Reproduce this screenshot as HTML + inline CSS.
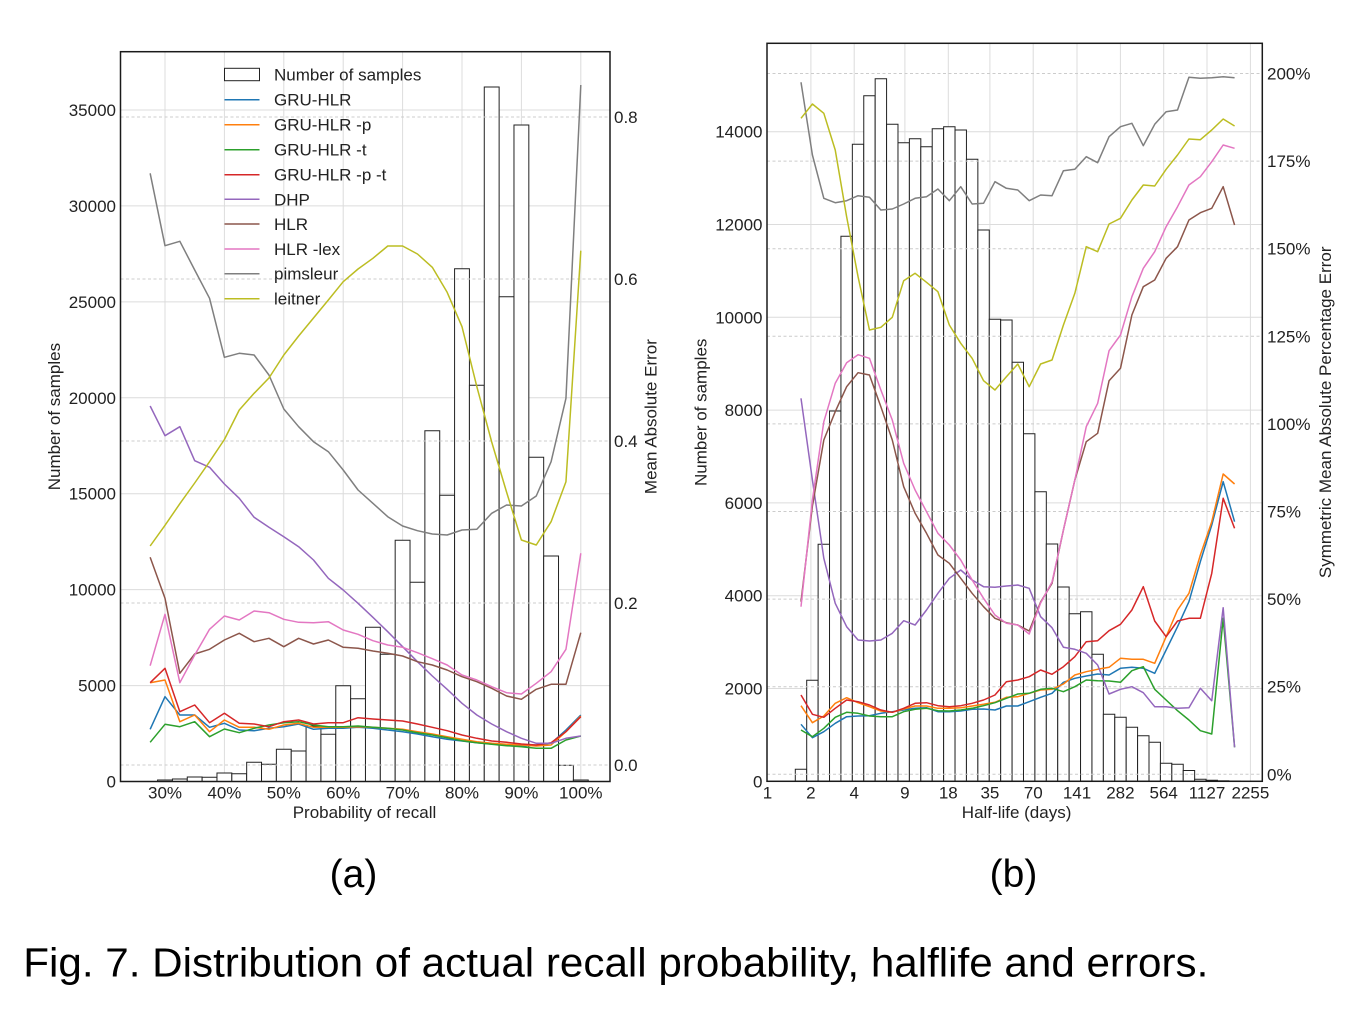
<!DOCTYPE html>
<html>
<head>
<meta charset="utf-8">
<style>
html,body{margin:0;padding:0;background:#fff;}
svg{display:block;}
text{font-family:"Liberation Sans",Arial,sans-serif;fill:#222;}
.t{font-size:17px;}
.g{stroke:#dcdcdc;stroke-width:1;}
.d{stroke:#cccccc;stroke-width:1;stroke-dasharray:3 2.5;}
.b rect{fill:#fff;stroke:#222;stroke-width:1;vector-effect:non-scaling-stroke;}
.ln polyline{fill:none;stroke-width:1.5;stroke-linejoin:round;vector-effect:non-scaling-stroke;}
</style>
</head>
<body>
<svg width="1366" height="1016" viewBox="0 0 1366 1016" xmlns="http://www.w3.org/2000/svg">
<rect x="0" y="0" width="1366" height="1016" fill="#fff"/>

<!-- ================= LEFT CHART ================= -->
<g class="g">
<line x1="120.5" y1="685.6" x2="610" y2="685.6"/>
<line x1="120.5" y1="589.6" x2="610" y2="589.6"/>
<line x1="120.5" y1="493.7" x2="610" y2="493.7"/>
<line x1="120.5" y1="397.8" x2="610" y2="397.8"/>
<line x1="120.5" y1="301.9" x2="610" y2="301.9"/>
<line x1="120.5" y1="205.9" x2="610" y2="205.9"/>
<line x1="120.5" y1="110" x2="610" y2="110"/>
<line x1="165" y1="51.7" x2="165" y2="781.5"/>
<line x1="224.4" y1="51.7" x2="224.4" y2="781.5"/>
<line x1="283.8" y1="51.7" x2="283.8" y2="781.5"/>
<line x1="343.2" y1="51.7" x2="343.2" y2="781.5"/>
<line x1="402.6" y1="51.7" x2="402.6" y2="781.5"/>
<line x1="462" y1="51.7" x2="462" y2="781.5"/>
<line x1="521.4" y1="51.7" x2="521.4" y2="781.5"/>
<line x1="580.8" y1="51.7" x2="580.8" y2="781.5"/>
</g>

<g class="b" transform="matrix(14.85,0,0,1,150.15,0)">
<rect x="0.5" y="780" width="1" height="1.5"/>
<rect x="1.5" y="779" width="1" height="2.5"/>
<rect x="2.5" y="777" width="1" height="4.5"/>
<rect x="3.5" y="777.3" width="1" height="4.2"/>
<rect x="4.5" y="773" width="1" height="8.5"/>
<rect x="5.5" y="773.7" width="1" height="7.8"/>
<rect x="6.5" y="762.3" width="1" height="19.2"/>
<rect x="7.5" y="764.3" width="1" height="17.2"/>
<rect x="8.5" y="749.3" width="1" height="32.2"/>
<rect x="9.5" y="751" width="1" height="30.5"/>
<rect x="10.5" y="726" width="1" height="55.5"/>
<rect x="11.5" y="734.3" width="1" height="47.2"/>
<rect x="12.5" y="685.7" width="1" height="95.8"/>
<rect x="13.5" y="698.7" width="1" height="82.8"/>
<rect x="14.5" y="627.3" width="1" height="154.2"/>
<rect x="15.5" y="654.3" width="1" height="127.2"/>
<rect x="16.5" y="540.3" width="1" height="241.2"/>
<rect x="17.5" y="582.3" width="1" height="199.2"/>
<rect x="18.5" y="430.7" width="1" height="350.8"/>
<rect x="19.5" y="495.3" width="1" height="286.2"/>
<rect x="20.5" y="268.7" width="1" height="512.8"/>
<rect x="21.5" y="385.3" width="1" height="396.2"/>
<rect x="22.5" y="87" width="1" height="694.5"/>
<rect x="23.5" y="296.7" width="1" height="484.8"/>
<rect x="24.5" y="125" width="1" height="656.5"/>
<rect x="25.5" y="457.3" width="1" height="324.2"/>
<rect x="26.5" y="556" width="1" height="225.5"/>
<rect x="27.5" y="765.3" width="1" height="16.2"/>
<rect x="28.5" y="780" width="1" height="1.5"/>
</g>

<g class="d">
<line x1="120.5" y1="765" x2="610" y2="765"/>
<line x1="120.5" y1="603" x2="610" y2="603"/>
<line x1="120.5" y1="441" x2="610" y2="441"/>
<line x1="120.5" y1="279" x2="610" y2="279"/>
<line x1="120.5" y1="117" x2="610" y2="117"/>
</g>

<g class="ln" transform="matrix(14.85,0,0,1,150.15,0)">
<polyline vector-effect="non-scaling-stroke" stroke="#1f77b4" points="0,729.3 1,696.7 2,715 3,715 4,727.3 5,723.3 6,730 7,730.7 8,728.3 9,726.7 10,724 11,729.3 12,728.3 13,728.3 14,727.3 15,728.3 16,730 17,731.7 18,734 19,736.7 20,739.3 21,741 22,742.7 23,744 24,745 25,746 26,745 27,743.3 28,730 29,715"/>
<polyline vector-effect="non-scaling-stroke" stroke="#ff7f0e" points="0,682.7 1,680 2,721.7 3,715 4,731.7 5,720 6,727.3 7,727.3 8,729.3 9,725 10,723.3 11,727.3 12,727.3 13,727.3 14,726.7 15,727.3 16,728.3 17,729.3 18,731.7 19,734 20,736.7 21,739.3 22,741.7 23,743.3 24,744.3 25,745 26,746 27,745 28,731.7 29,716"/>
<polyline vector-effect="non-scaling-stroke" stroke="#2ca02c" points="0,742.3 1,724.3 2,726.7 3,721.7 4,736.7 5,729 6,732.7 7,728.3 8,725 9,722.7 10,721.7 11,725 12,726.7 13,726.7 14,726 15,727.3 16,728.3 17,730 18,732.7 19,735 20,737.7 21,740.7 22,742.7 23,744.3 24,745.7 25,746.7 26,748.3 27,748.3 28,740 29,736"/>
<polyline vector-effect="non-scaling-stroke" stroke="#d62728" points="0,682.7 1,668.3 2,711.7 3,705 4,722.7 5,713.3 6,723.3 7,724 8,726.7 9,721.7 10,720 11,724 12,722.7 13,722.7 14,717.7 15,719 16,720 17,721 18,724 19,727.3 20,730.7 21,735 22,738.3 23,741 24,742.3 25,744 26,745 27,742.7 28,731.7 29,716.7"/>
<polyline vector-effect="non-scaling-stroke" stroke="#9467bd" points="0,406 1,435.7 2,426.7 3,460.7 4,467.3 5,484 6,498.3 7,517.3 8,527.3 9,536.7 10,546.7 11,560 12,578.3 13,590 14,603.3 15,617.3 16,631.7 17,646.7 18,661.7 19,676 20,689.3 21,703.3 22,715 23,724 24,731.7 25,738.3 26,743.3 27,743.3 28,738.3 29,736"/>
<polyline vector-effect="non-scaling-stroke" stroke="#8c564b" points="0,557.3 1,598.3 2,673.3 3,654 4,649.3 5,640 6,633.3 7,641.7 8,638.3 9,646.7 10,638.3 11,644 12,640 13,647.3 14,648.3 15,651 16,653.3 17,656 18,661.7 19,665 20,670 21,676.7 22,681.7 23,688.3 24,696 25,699.3 26,689.3 27,684.3 28,684.3 29,632.7"/>
<polyline vector-effect="non-scaling-stroke" stroke="#e377c2" points="0,665.7 1,614.3 2,682.7 3,655 4,629.3 5,616 6,620 7,611 8,612.7 9,619.3 10,622.3 11,622.7 12,621.7 13,630 14,634.3 15,640.7 16,645 17,647.3 18,652.7 19,658.7 20,665 21,675 22,680 23,686.7 24,692.7 25,694 26,683.3 27,671.7 28,649.3 29,553.3"/>
<polyline vector-effect="non-scaling-stroke" stroke="#7f7f7f" points="0,173.3 1,245.7 2,241.3 3,270 4,298.3 5,357.3 6,353.3 7,355 8,375 9,409 10,426.7 11,441.7 12,451.7 13,470 14,490 15,503.3 16,516.7 17,526 18,530.7 19,534 20,535 21,530 22,529.3 23,513.3 24,505 25,506 26,496 27,461.7 28,398.3 29,85"/>
<polyline vector-effect="non-scaling-stroke" stroke="#bcbd22" points="0,546 1,525.3 2,503.7 3,483 4,461.7 5,439.5 6,410 7,393.3 8,378 9,355 10,336 11,318 12,300 13,281.7 14,269 15,258.3 16,246 17,246 18,254 19,267.3 20,292.3 21,326.7 22,386.7 23,442 24,492 25,540 26,545 27,521.7 28,481.7 29,250.7"/>
</g>

<rect x="120.5" y="51.7" width="489.5" height="729.8" fill="none" stroke="#1a1a1a" stroke-width="1.5"/>

<!-- legend -->
<rect x="224.5" y="68.3" width="35" height="12.4" fill="#fff" stroke="#222" stroke-width="1"/>
<g stroke-width="1.5">
<line x1="224.5" y1="99.7" x2="259.5" y2="99.7" stroke="#1f77b4"/>
<line x1="224.5" y1="124.7" x2="259.5" y2="124.7" stroke="#ff7f0e"/>
<line x1="224.5" y1="149.7" x2="259.5" y2="149.7" stroke="#2ca02c"/>
<line x1="224.5" y1="174.7" x2="259.5" y2="174.7" stroke="#d62728"/>
<line x1="224.5" y1="199.3" x2="259.5" y2="199.3" stroke="#9467bd"/>
<line x1="224.5" y1="224" x2="259.5" y2="224" stroke="#8c564b"/>
<line x1="224.5" y1="249" x2="259.5" y2="249" stroke="#e377c2"/>
<line x1="224.5" y1="273.7" x2="259.5" y2="273.7" stroke="#7f7f7f"/>
<line x1="224.5" y1="298.7" x2="259.5" y2="298.7" stroke="#bcbd22"/>
</g>
<g class="t">
<text x="274" y="80.7">Number of samples</text>
<text x="274" y="105.7">GRU-HLR</text>
<text x="274" y="130.7">GRU-HLR -p</text>
<text x="274" y="155.7">GRU-HLR -t</text>
<text x="274" y="180.7">GRU-HLR -p -t</text>
<text x="274" y="205.3">DHP</text>
<text x="274" y="230">HLR</text>
<text x="274" y="255">HLR -lex</text>
<text x="274" y="279.7">pimsleur</text>
<text x="274" y="304.7">leitner</text>
</g>

<!-- left chart tick labels -->
<g class="t" text-anchor="end">
<text x="116" y="787.5">0</text>
<text x="116" y="691.6">5000</text>
<text x="116" y="595.6">10000</text>
<text x="116" y="499.7">15000</text>
<text x="116" y="403.8">20000</text>
<text x="116" y="307.9">25000</text>
<text x="116" y="211.9">30000</text>
<text x="116" y="116">35000</text>
</g>
<g class="t">
<text x="614" y="771">0.0</text>
<text x="614" y="609">0.2</text>
<text x="614" y="447">0.4</text>
<text x="614" y="285">0.6</text>
<text x="614" y="123">0.8</text>
</g>
<g class="t" text-anchor="middle">
<text x="165" y="798.5">30%</text>
<text x="224.4" y="798.5">40%</text>
<text x="283.8" y="798.5">50%</text>
<text x="343.2" y="798.5">60%</text>
<text x="402.6" y="798.5">70%</text>
<text x="462" y="798.5">80%</text>
<text x="521.4" y="798.5">90%</text>
<text x="580.8" y="798.5">100%</text>
<text x="364.5" y="818">Probability of recall</text>
<text transform="translate(60,416.6) rotate(-90)">Number of samples</text>
<text transform="translate(656.7,416.6) rotate(-90)">Mean Absolute Error</text>
</g>

<!-- ================= RIGHT CHART ================= -->
<g class="g">
<line x1="767" y1="688.5" x2="1262.3" y2="688.5"/>
<line x1="767" y1="595.7" x2="1262.3" y2="595.7"/>
<line x1="767" y1="502.9" x2="1262.3" y2="502.9"/>
<line x1="767" y1="410.1" x2="1262.3" y2="410.1"/>
<line x1="767" y1="317.3" x2="1262.3" y2="317.3"/>
<line x1="767" y1="224.5" x2="1262.3" y2="224.5"/>
<line x1="767" y1="131.7" x2="1262.3" y2="131.7"/>
<line x1="810.9" y1="43.3" x2="810.9" y2="781.3"/>
<line x1="854.2" y1="43.3" x2="854.2" y2="781.3"/>
<line x1="904.9" y1="43.3" x2="904.9" y2="781.3"/>
<line x1="948.3" y1="43.3" x2="948.3" y2="781.3"/>
<line x1="989.9" y1="43.3" x2="989.9" y2="781.3"/>
<line x1="1033.2" y1="43.3" x2="1033.2" y2="781.3"/>
<line x1="1077" y1="43.3" x2="1077" y2="781.3"/>
<line x1="1120.4" y1="43.3" x2="1120.4" y2="781.3"/>
<line x1="1163.7" y1="43.3" x2="1163.7" y2="781.3"/>
<line x1="1207" y1="43.3" x2="1207" y2="781.3"/>
<line x1="1250.4" y1="43.3" x2="1250.4" y2="781.3"/>
</g>

<g class="b" transform="matrix(11.41,0,0,1,801,0)">
<rect x="-0.5" y="769.3" width="1" height="12"/>
<rect x="0.5" y="680.3" width="1" height="101"/>
<rect x="1.5" y="544.2" width="1" height="237.1"/>
<rect x="2.5" y="411" width="1" height="370.3"/>
<rect x="3.5" y="236.3" width="1" height="545"/>
<rect x="4.5" y="144.3" width="1" height="637"/>
<rect x="5.5" y="95.7" width="1" height="685.6"/>
<rect x="6.5" y="78.7" width="1" height="702.6"/>
<rect x="7.5" y="124.3" width="1" height="657"/>
<rect x="8.5" y="142.7" width="1" height="638.6"/>
<rect x="9.5" y="138.7" width="1" height="642.6"/>
<rect x="10.5" y="146.7" width="1" height="634.6"/>
<rect x="11.5" y="128.7" width="1" height="652.6"/>
<rect x="12.5" y="126.7" width="1" height="654.6"/>
<rect x="13.5" y="130" width="1" height="651.3"/>
<rect x="14.5" y="159.3" width="1" height="622"/>
<rect x="15.5" y="230" width="1" height="551.3"/>
<rect x="16.5" y="319.3" width="1" height="462"/>
<rect x="17.5" y="320" width="1" height="461.3"/>
<rect x="18.5" y="362.3" width="1" height="419"/>
<rect x="19.5" y="433.7" width="1" height="347.6"/>
<rect x="20.5" y="491.7" width="1" height="289.6"/>
<rect x="21.5" y="544" width="1" height="237.3"/>
<rect x="22.5" y="587" width="1" height="194.3"/>
<rect x="23.5" y="613.7" width="1" height="167.6"/>
<rect x="24.5" y="611.7" width="1" height="169.6"/>
<rect x="25.5" y="654.3" width="1" height="127"/>
<rect x="26.5" y="714.3" width="1" height="67"/>
<rect x="27.5" y="717.3" width="1" height="64"/>
<rect x="28.5" y="727.3" width="1" height="54"/>
<rect x="29.5" y="735.7" width="1" height="45.6"/>
<rect x="30.5" y="742.3" width="1" height="39"/>
<rect x="31.5" y="763.3" width="1" height="18"/>
<rect x="32.5" y="764.2" width="1" height="17.1"/>
<rect x="33.5" y="770.5" width="1" height="10.8"/>
<rect x="34.5" y="779.3" width="1" height="2"/>
<rect x="35.5" y="780.2" width="1" height="1.1"/>
<rect x="36.5" y="780.8" width="1" height="0.5"/>
<rect x="37.5" y="781" width="1" height="0.3"/>
</g>

<g class="d">
<line x1="767" y1="774.3" x2="1262.3" y2="774.3"/>
<line x1="767" y1="686.7" x2="1262.3" y2="686.7"/>
<line x1="767" y1="599.1" x2="1262.3" y2="599.1"/>
<line x1="767" y1="511.5" x2="1262.3" y2="511.5"/>
<line x1="767" y1="423.9" x2="1262.3" y2="423.9"/>
<line x1="767" y1="336.3" x2="1262.3" y2="336.3"/>
<line x1="767" y1="248.7" x2="1262.3" y2="248.7"/>
<line x1="767" y1="161.1" x2="1262.3" y2="161.1"/>
<line x1="767" y1="73.5" x2="1262.3" y2="73.5"/>
</g>

<g class="ln" transform="matrix(11.41,0,0,1,801,0)">
<polyline vector-effect="non-scaling-stroke" stroke="#1f77b4" points="0,724.3 1,737.7 2,731.7 3,723.3 4,716.7 5,716 6,715.7 7,713.3 8,711.7 9,710 10,708.3 11,707.7 12,711.7 13,711.7 14,711 15,709.3 16,709 17,710 18,706 19,706 20,701.7 21,697.3 22,693.3 23,682.3 24,678.3 25,676 26,674 27,675 28,668.3 29,667.3 30,668.3 31,673.3 32,650 33,626.7 34,601.7 35,561.7 36,525 37,481.7 38,521.7"/>
<polyline vector-effect="non-scaling-stroke" stroke="#ff7f0e" points="0,705.7 1,722.7 2,716 3,703.3 4,697.7 5,702.7 6,706.7 7,711 8,712.3 9,709 10,706 11,706 12,708.3 13,708.3 14,707.7 15,706 16,704.3 17,702.3 18,697.3 19,696.7 20,693.3 21,690 22,689.3 23,684 24,675 25,671.7 26,669.3 27,667.3 28,658.3 29,659.3 30,659.3 31,663.3 32,636.7 33,610 34,593.3 35,555 36,521.7 37,474 38,484"/>
<polyline vector-effect="non-scaling-stroke" stroke="#2ca02c" points="0,730 1,736.7 2,728.3 3,717.3 4,712.3 5,713.3 6,716 7,716.7 8,716.7 9,711.7 10,709.3 11,708.3 12,710.7 13,711 14,710 15,708.3 16,705.7 17,702.7 18,698.3 19,694 20,693.3 21,689.3 22,688.3 23,691.7 24,686.7 25,680 26,680.7 27,681 28,682.3 29,670.7 30,666.7 31,689.3 32,700 33,710.7 34,720 35,730.7 36,734 37,618.3 38,747.3"/>
<polyline vector-effect="non-scaling-stroke" stroke="#d62728" points="0,695 1,714.3 2,717.3 3,708.3 4,700 5,701.7 6,705 7,710 8,712.3 9,708.3 10,703.3 11,702.7 12,705.7 13,706.7 14,705.7 15,703.3 16,700 17,695 18,681.7 19,680 20,676.7 21,670 22,674.3 23,666.7 24,656.7 25,641.7 26,640.7 27,630.7 28,624.3 29,610 30,586.7 31,621 32,636.7 33,621 34,618.3 35,618.3 36,573.3 37,498.3 38,528.3"/>
<polyline vector-effect="non-scaling-stroke" stroke="#9467bd" points="0,398.3 1,480 2,558.3 3,603.3 4,626.7 5,640 6,641 7,640 8,633.3 9,620.7 10,625 11,610 12,593.3 13,578.3 14,570 15,580 16,586.7 17,587.3 18,586 19,585 20,588.3 21,616.7 22,627.7 23,647.3 24,649.3 25,653.3 26,665 27,694 28,689.3 29,686.7 30,692.7 31,706.7 32,706.7 33,708.3 34,707.7 35,688.3 36,700.7 37,607.7 38,747.3"/>
<polyline vector-effect="non-scaling-stroke" stroke="#8c564b" points="0,601.7 1,506 2,440 3,411.7 4,386.7 5,372.7 6,375 7,406.7 8,440 9,486.7 10,513.3 11,533.3 12,555 13,563.3 14,578.3 15,593.3 16,606.7 17,618.3 18,622.7 19,625 20,631 21,602 22,583.3 23,530 24,480 25,441.7 26,433.3 27,380.7 28,368.3 29,315 30,286.7 31,280 32,258.3 33,246.7 34,220 35,212.7 36,208.3 37,186.7 38,225"/>
<polyline vector-effect="non-scaling-stroke" stroke="#e377c2" points="0,606.7 1,500 2,421.7 3,383.3 4,362.7 5,354.7 6,358.3 7,390 8,420 9,463.3 10,490 11,511.7 12,533.3 13,545 14,560 15,580 16,598.3 17,615 18,623.3 19,625 20,634 21,603 22,582 23,530 24,480 25,426.7 26,403.3 27,350.7 28,335 29,296.7 30,268.3 31,251.7 32,226.7 33,206.7 34,185 35,176.7 36,161.7 37,145 38,148.3"/>
<polyline vector-effect="non-scaling-stroke" stroke="#7f7f7f" points="0,82.3 1,155 2,198.3 3,202.7 4,200.7 5,195.7 6,197.3 7,210 8,209 9,204 10,198.3 11,196.7 12,189 13,200.7 14,186.7 15,204 16,203.3 17,181.7 18,188.3 19,190 20,200.7 21,195 22,195.7 23,170.7 24,169.3 25,156.7 26,162.7 27,136.7 28,126.7 29,123.3 30,145.7 31,124.3 32,111.7 33,110 34,77.3 35,78.3 36,77.7 37,76.7 38,77.7"/>
<polyline vector-effect="non-scaling-stroke" stroke="#bcbd22" points="0,118.3 1,104 2,113.3 3,150 4,216.7 5,276.7 6,330 7,327.3 8,317.3 9,280.7 10,273.3 11,282.3 12,291.7 13,325 14,343.3 15,358.3 16,380.7 17,390 18,376.7 19,364 20,386.7 21,364 22,360 23,325 24,293.3 25,246.7 26,251.7 27,224 28,218.3 29,200 30,185 31,186 32,169.3 33,155 34,139 35,139.7 36,130 37,119 38,126"/>
</g>

<rect x="767" y="43.3" width="495.3" height="738" fill="none" stroke="#1a1a1a" stroke-width="1.5"/>

<!-- right chart tick labels -->
<g class="t" text-anchor="end">
<text x="762.5" y="787.3">0</text>
<text x="762.5" y="694.5">2000</text>
<text x="762.5" y="601.7">4000</text>
<text x="762.5" y="508.9">6000</text>
<text x="762.5" y="416.1">8000</text>
<text x="762.5" y="323.3">10000</text>
<text x="762.5" y="230.5">12000</text>
<text x="762.5" y="137.7">14000</text>
</g>
<g class="t">
<text x="1267" y="780.3">0%</text>
<text x="1267" y="692.7">25%</text>
<text x="1267" y="605.1">50%</text>
<text x="1267" y="517.5">75%</text>
<text x="1267" y="429.9">100%</text>
<text x="1267" y="342.3">125%</text>
<text x="1267" y="254.7">150%</text>
<text x="1267" y="167.1">175%</text>
<text x="1267" y="79.5">200%</text>
</g>
<g class="t" text-anchor="middle">
<text x="767.5" y="798.5">1</text>
<text x="810.9" y="798.5">2</text>
<text x="854.2" y="798.5">4</text>
<text x="904.9" y="798.5">9</text>
<text x="948.3" y="798.5">18</text>
<text x="989.9" y="798.5">35</text>
<text x="1033.2" y="798.5">70</text>
<text x="1077" y="798.5">141</text>
<text x="1120.4" y="798.5">282</text>
<text x="1163.7" y="798.5">564</text>
<text x="1207" y="798.5">1127</text>
<text x="1250.4" y="798.5">2255</text>
<text x="1016.6" y="818">Half-life (days)</text>
<text transform="translate(706.5,412.3) rotate(-90)">Number of samples</text>
<text transform="translate(1331,412.3) rotate(-90)">Symmetric Mean Absolute Percentage Error</text>
</g>

<!-- sub captions & figure caption -->
<text x="353.5" y="887" font-size="39" text-anchor="middle" style="fill:#000">(a)</text>
<text x="1013.5" y="887" font-size="39" text-anchor="middle" style="fill:#000">(b)</text>
<text x="23.3" y="976.7" font-size="41" textLength="1185" lengthAdjust="spacingAndGlyphs" style="fill:#000">Fig. 7. Distribution of actual recall probability, halflife and errors.</text>
</svg>
</body>
</html>
